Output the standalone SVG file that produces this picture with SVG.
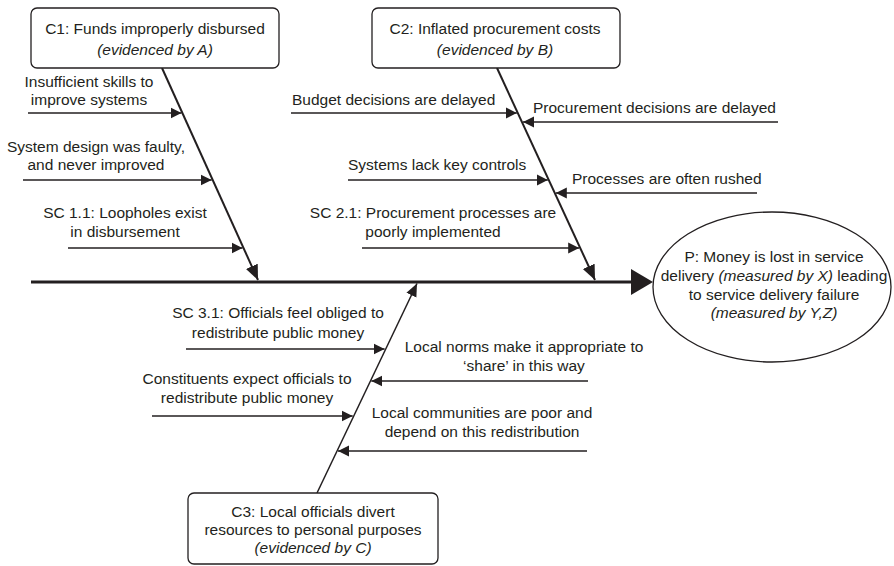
<svg xmlns="http://www.w3.org/2000/svg" width="894" height="566" viewBox="0 0 894 566">
<style>
text{font-family:"Liberation Sans",Arial,sans-serif;font-size:15.5px;fill:#231f20}
.m{text-anchor:middle}
.i{font-style:italic}
.box{fill:#fff;stroke:#231f20;stroke-width:1.3}
.br{stroke:#231f20;stroke-width:1.6;fill:none;marker-end:url(#a)}
.bone{stroke:#231f20;stroke-width:2;fill:none;marker-end:url(#b)}
</style>
<defs>
<marker id="a" markerUnits="userSpaceOnUse" markerWidth="12" markerHeight="12" refX="11" refY="6" orient="auto"><path d="M0,0.5L11,6L0,11.5z" fill="#231f20"/></marker>
<marker id="b" markerUnits="userSpaceOnUse" markerWidth="16" markerHeight="14" refX="15" refY="7" orient="auto"><path d="M0,0.5L15,7L0,13.5z" fill="#231f20"/></marker>
<marker id="c" markerUnits="userSpaceOnUse" markerWidth="14" markerHeight="12" refX="13" refY="6" orient="auto"><path d="M0,0.5L13,6L0,11.5z" fill="#231f20"/></marker>
</defs>
<g id="connectors">
<line x1="31" y1="282" x2="632" y2="282" stroke="#231f20" stroke-width="3"/>
<path d="M631,269L653,282L631,295z" fill="#231f20"/>
<line class="bone" x1="162" y1="68" x2="258" y2="280"/>
<line class="bone" x1="497" y1="68" x2="595" y2="280"/>
<line x1="317" y1="493" x2="417" y2="283.5" stroke="#231f20" stroke-width="1.5" marker-end="url(#c)"/>
<line class="br" x1="28" y1="113" x2="181.5" y2="113"/>
<line class="br" x1="23" y1="180" x2="211.7" y2="180"/>
<line class="br" x1="68" y1="248" x2="242.5" y2="248"/>
<line class="br" x1="291" y1="113" x2="516.8" y2="113"/>
<line class="br" x1="778" y1="122" x2="523" y2="122"/>
<line class="br" x1="348" y1="180" x2="547.8" y2="180"/>
<line class="br" x1="757" y1="193" x2="555.8" y2="193"/>
<line class="br" x1="362" y1="248" x2="579.2" y2="248"/>
<line class="br" x1="186" y1="349" x2="384.6" y2="349"/>
<line class="br" x1="588" y1="381" x2="371.3" y2="381"/>
<line class="br" x1="152" y1="416" x2="352.7" y2="416"/>
<line class="br" x1="587" y1="451" x2="338" y2="451"/>
</g>
<g id="C1">
<rect class="box" x="31" y="8" width="248" height="60" rx="6"/>
<text class="m" x="155" y="34">C1: Funds improperly disbursed</text>
<text class="m i" x="155" y="55">(evidenced by A)</text>
</g>
<g id="C2">
<rect class="box" x="372" y="8" width="248" height="60" rx="6"/>
<text class="m" x="495" y="34">C2: Inflated procurement costs</text>
<text class="m i" x="495" y="55">(evidenced by B)</text>
</g>
<g id="C3">
<rect class="box" x="188" y="493" width="250" height="71" rx="6"/>
<text class="m" x="313" y="517">C3: Local officials divert</text>
<text class="m" x="313" y="535">resources to personal purposes</text>
<text class="m i" x="313" y="553">(evidenced by C)</text>
</g>
<g id="P">
<ellipse cx="772" cy="287" rx="119" ry="75" fill="#fff" stroke="#231f20" stroke-width="1.3"/>
<text class="m" x="774" y="262">P: Money is lost in service</text>
<text class="m" x="774" y="281">delivery <tspan class="i">(measured by X)</tspan> leading</text>
<text class="m" x="774" y="300">to service delivery failure</text>
<text class="m i" x="774" y="318">(measured by Y,Z)</text>
</g>
<g id="labels">
<g id="L11"><text class="m" x="89" y="87">Insufficient skills to</text><text class="m" x="89" y="105">improve systems</text></g>
<g id="L12"><text class="m" x="96" y="152">System design was faulty,</text><text class="m" x="96" y="170">and never improved</text></g>
<g id="L13"><text class="m" x="125" y="218">SC 1.1: Loopholes exist</text><text class="m" x="125" y="237">in disbursement</text></g>
<g id="L21"><text x="292" y="105">Budget decisions are delayed</text></g>
<g id="L22"><text x="533" y="113">Procurement decisions are delayed</text></g>
<g id="L23"><text x="348" y="170">Systems lack key controls</text></g>
<g id="L24"><text x="572" y="184">Processes are often rushed</text></g>
<g id="L25"><text class="m" x="433" y="218">SC 2.1: Procurement processes are</text><text class="m" x="433" y="237">poorly implemented</text></g>
<g id="L31"><text class="m" x="278" y="318">SC 3.1: Officials feel obliged to</text><text class="m" x="278" y="338">redistribute public money</text></g>
<g id="L32"><text class="m" x="524" y="352">Local norms make it appropriate to</text><text class="m" x="524" y="371">‘share’ in this way</text></g>
<g id="L33"><text class="m" x="247" y="384">Constituents expect officials to</text><text class="m" x="247" y="403">redistribute public money</text></g>
<g id="L34"><text class="m" x="482" y="418">Local communities are poor and</text><text class="m" x="482" y="437">depend on this redistribution</text></g>
</g>
</svg>
